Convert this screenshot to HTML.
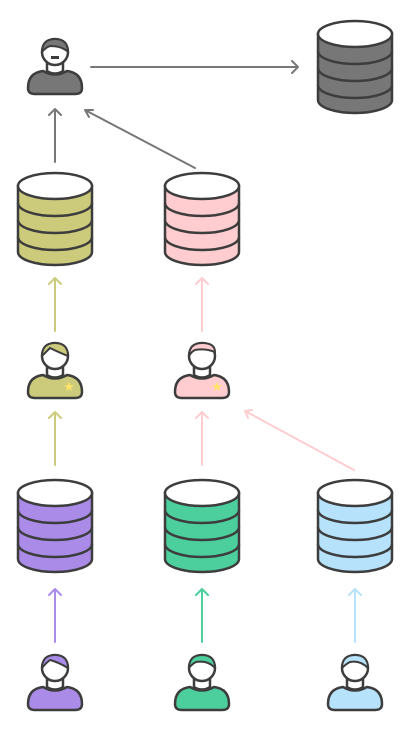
<!DOCTYPE html>
<html><head><meta charset="utf-8"><style>html,body{margin:0;padding:0;background:#fff}svg{display:block}</style></head>
<body>
<svg width="411" height="730" viewBox="0 0 411 730" xmlns="http://www.w3.org/2000/svg">
<defs>
<g id="db" stroke="#3d3d3d" stroke-width="2.5">
<path d="M-37,13 L-37,79 A37,13 0 0 0 37,79 L37,13 Z" />
<path d="M-37,30 A37,13 0 0 0 37,30 M-37,47 A37,13 0 0 0 37,47 M-37,64 A37,13 0 0 0 37,64" fill="none"/>
<ellipse cx="0" cy="13" rx="37" ry="13" fill="#fff"/>
</g>
<g id="body" stroke="#3d3d3d" stroke-width="2.5">
<path d="M-27,36 C-27,24 -20,20 -12,19 Q0,26 12,19 C20,20 27,24 27,36 Q27,42 20,42 L-20,42 Q-27,42 -27,36 Z"/>
<path d="M-8,8 L-8,19 Q0,24 8,19 L8,8" fill="#fff"/>
<circle cx="0" cy="0" r="13" fill="#fff"/>
</g>
</defs>
<g stroke-width="2" fill="none" stroke-linecap="round" stroke-linejoin="round">
<g stroke="#777"><path d="M55,162 L55,109 M49,115 L55,109 L61,115"/><path d="M195,168 L85,110 M93,110 L85,110 L89,117"/><path d="M91,67 L298,67 M292,61 L298,67 L292,73"/></g>
<g stroke="#cccb7c"><path d="M55,331 L55,278 M49,284 L55,278 L61,284"/><path d="M55,465 L55,412 M49,418 L55,412 L61,418"/></g>
<g stroke="#ffcdd0"><path d="M202,331 L202,278 M196,284 L202,278 L208,284"/><path d="M202,465 L202,412 M196,418 L202,412 L208,418"/><path d="M354,470 L245,411 M252,410 L245,411 L248,418"/></g>
<path stroke="#aa8ce8" d="M55,642 L55,589 M49,595 L55,589 L61,595"/>
<path stroke="#4ccf9c" d="M202,642 L202,589 M196,595 L202,589 L208,595"/>
<path stroke="#b6e2fb" d="M355,642 L355,589 M349,595 L355,589 L361,595"/>
</g>
<use href="#db" x="355" y="21" fill="#777"/>
<use href="#db" x="55" y="173" fill="#cccb7c"/>
<use href="#db" x="202" y="173" fill="#ffcdd0"/>
<use href="#db" x="55" y="480" fill="#aa8ce8"/>
<use href="#db" x="202" y="480" fill="#4ccf9c"/>
<use href="#db" x="355" y="480" fill="#b6e2fb"/>
<use href="#body" x="55" y="52" fill="#777"/>
<use href="#body" x="55" y="356" fill="#cccb7c"/>
<use href="#body" x="202" y="356" fill="#ffcdd0"/>
<use href="#body" x="55" y="668" fill="#aa8ce8"/>
<use href="#body" x="202" y="668" fill="#4ccf9c"/>
<use href="#body" x="355" y="668" fill="#b6e2fb"/>
<g stroke="#3d3d3d" stroke-width="2">
<path d="M42,52 Q42,39 55,39 Q68,39 68,52 Q62,46 50,46 Q45,48 42,52Z" fill="#777"/>
<path d="M42,356 Q42,343 55,343 Q68,343 68,356 Q58,352 50,348 Q46,352 42,356Z" fill="#cccb7c"/>
<path d="M189,356 Q189,343 202,343 Q215,343 215,352 Q205,348 195,350 Q191,352 189,356Z" fill="#ffcdd0"/>
<path d="M42,668 Q42,655 55,655 Q68,655 68,668 Q58,662 50,660 Q46,663 42,668Z" fill="#aa8ce8"/>
<path d="M189,668 Q189,655 202,655 Q215,655 215,668 Q208,660 196,662 Q192,664 189,668Z" fill="#4ccf9c"/>
<path d="M342,668 Q342,655 355,655 Q368,655 368,668 Q360,660 350,662 Q346,664 342,668Z" fill="#b6e2fb"/>
</g>
<rect x="51" y="56" width="8" height="3" fill="#3d3d3d"/>
<text x="69" y="391" font-size="13" fill="#ffe36b" font-family="DejaVu Sans, sans-serif" text-anchor="middle">★</text>
<text x="217" y="391" font-size="13" fill="#ffe36b" font-family="DejaVu Sans, sans-serif" text-anchor="middle">★</text>
</svg>
</body></html>
